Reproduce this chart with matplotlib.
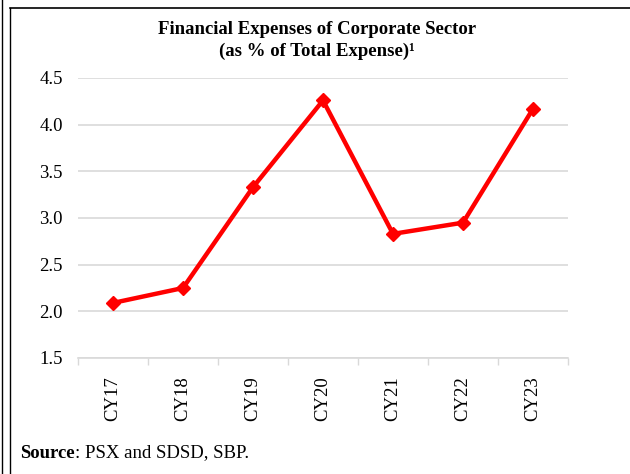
import matplotlib.pyplot as plt
from matplotlib.lines import Line2D

# data
years = ['CY17', 'CY18', 'CY19', 'CY20', 'CY21', 'CY22', 'CY23']
fin_exp = [2.09, 2.25, 3.33, 4.26, 2.83, 2.95, 4.17]
y_ticks = [1.5, 2.0, 2.5, 3.0, 3.5, 4.0, 4.5]

plt.rcParams['font.family'] = ['Liberation Serif', 'DejaVu Serif']

fig = plt.figure(figsize=(6.3, 4.74), dpi=100)
ax = fig.add_axes([78 / 630, 1 - 358 / 474, 490 / 630, 280 / 474])

x = list(range(len(years)))
ax.plot(x, fin_exp, color='#ff0000', lw=3.2, marker='D', ms=7, zorder=3)

ax.set_xlim(-0.5, len(years) - 0.5)
ax.set_ylim(1.5, 4.5)
ax.set_yticks(y_ticks)
ax.set_yticklabels([f'{v:.1f}' for v in y_ticks], fontsize=13.5)
ax.set_xticks(x)
ax.set_xticklabels(years, rotation=90, fontsize=13.5)
ax.tick_params(axis='x', length=0, pad=13)
ax.tick_params(axis='y', length=0, pad=11)

# category boundary ticks like excel
ax.set_xticks([i - 0.5 for i in range(len(years) + 1)], minor=True)
ax.tick_params(axis='x', which='minor', length=5, color='#d9d9d9', width=1)

ax.grid(axis='y', color='#d9d9d9', lw=1.2)
ax.set_axisbelow(True)
for s in ['left', 'right', 'top']:
    ax.spines[s].set_visible(False)
ax.spines['bottom'].set_color('#d9d9d9')
ax.spines['bottom'].set_linewidth(1.2)

fig.text(0.503, 1 - 30 / 474, 'Financial Expenses of Corporate Sector',
         ha='center', va='center', fontsize=13.5, fontweight='bold')
fig.text(0.503, 1 - 51 / 474, '(as % of Total Expense)\u00b9',
         ha='center', va='center', fontsize=13.5, fontweight='bold')

# source line, bold word then the rest right after it
src = fig.text(20 / 630, 1 - 453 / 474, 'Source', fontsize=13.5,
               fontweight='bold', va='center', ha='left')
ax.annotate(': PSX and SDSD, SBP.', xy=(1, 0.5), xycoords=src,
            va='center', ha='left', fontsize=13.5, annotation_clip=False)

# page frame lines
fig.add_artist(Line2D([2 / 630, 2 / 630], [0, 1], color='black', lw=1,
                      transform=fig.transFigure))
fig.add_artist(Line2D([10 / 630, 10 / 630], [0, 1 - 8 / 474], color='black',
                      lw=1, transform=fig.transFigure))
fig.add_artist(Line2D([10 / 630, 1], [1 - 8 / 474, 1 - 8 / 474], color='black',
                      lw=1.2, transform=fig.transFigure))

fig.savefig('out.png', dpi=100)
